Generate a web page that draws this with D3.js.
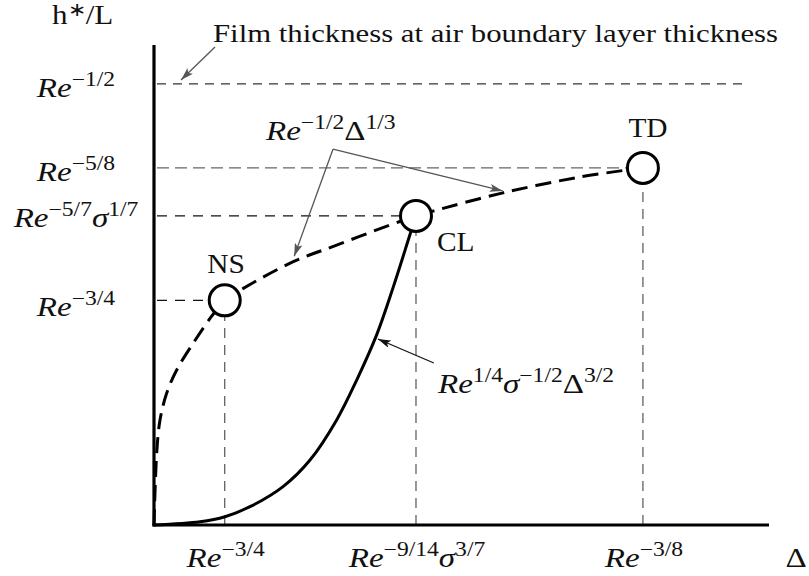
<!DOCTYPE html>
<html>
<head>
<meta charset="utf-8">
<script src="https://cdn.jsdelivr.net/npm/d3@7"></script>
<style>
  html, body { margin: 0; padding: 0; background: #fff; }
  svg { display: block; }
  text { font-family: "Liberation Serif", "Times New Roman", serif; fill: #111; }
</style>
</head>
<body>
<svg id="chart" width="809" height="576"></svg>
<script>
// ---------------- data (arbitrary units, schematic) ----------------
const yTickValues = [91.9, 74.4, 64.4, 46.8];
const yTickLabels = [
  [["Re","i"],["−1/2","s"]],
  [["Re","i"],["−5/8","s"]],
  [["Re","i"],["−5/7","s"],["σ","i"],["1/7","s"]],
  [["Re","i"],["−3/4","s"]]
];
const xTickValues = [11.5, 42.6, 79.5];
const xTickLabels = [
  [["Re","i"],["−3/4","s"]],
  [["Re","i"],["−9/14","s"],["σ","i"],["3/7","s"]],
  [["Re","i"],["−3/8","s"]]
];
const nodeNames = ["NS", "CL", "TD"];
const nodeX = [11.5, 42.6, 79.5];
const nodeY = [46.8, 64.4, 74.4];

// dashed curve: Re^{-1/2} Δ^{1/3}
const dashedX = [0, 0.44, 0.98, 2.07, 3.69, 6.39, 9.38, 11.5, 14.52, 22.65, 29.7, 38.37, 42.6, 45.37, 56.75, 69.27, 79.5];
const dashedY = [0, 15.0, 21.9, 27.5, 32.3, 37.9, 43.5, 46.8, 49.3, 54.85, 58.3, 62.5, 64.4, 65.4, 69.2, 72.5, 74.4];

// solid curve: Re^{1/4} σ^{-1/2} Δ^{3/2}
const solidX = [0, 7.48, 11.54, 15.6, 20.98, 25.37, 29.7, 32.96, 36.2, 38.86, 41.6, 42.6];
const solidY = [0, 0.69, 1.73, 3.81, 8.0, 13.54, 21.9, 30.2, 39.6, 49.4, 60.4, 64.4];

// ---------------- layout ----------------
const svg = d3.select("#chart");
const x = d3.scaleLinear().domain([0, 100]).range([154, 769]);
const y = d3.scaleLinear().domain([0, 100]).range([525, 45]);
const R = 15.5;
const FS = 28, SX = 1.18;

// arrowhead markers
const defs = svg.append("defs");
function marker(id, color) {
  defs.append("marker").attr("id", id)
    .attr("viewBox", "0 0 13 8").attr("refX", 13).attr("refY", 4)
    .attr("markerWidth", 13).attr("markerHeight", 8)
    .attr("markerUnits", "userSpaceOnUse").attr("orient", "auto")
    .append("path").attr("d", "M0,0 L13,4 L0,8 L3,4 Z").attr("fill", color);
}
marker("agray", "#555");
marker("ablack", "#111");

// math text helper (slightly widened to mimic Computer Modern)
function mathText(px, py, parts, anchor, size) {
  size = size || FS;
  const sup = Math.round(size * 0.7);
  const g = svg.append("g").attr("transform", `translate(${px},${py}) scale(${SX},1)`);
  const t = g.append("text").attr("x", 0).attr("y", 0)
    .attr("text-anchor", anchor || "start").attr("font-size", size);
  let raised = false;
  parts.forEach(([s, st]) => {
    const sp = t.append("tspan").text(s);
    if (st === "s") {
      sp.attr("font-size", sup);
      if (!raised) { sp.attr("dy", -size * 0.4); raised = true; }
    } else {
      if (raised) { sp.attr("dy", size * 0.4); raised = false; }
      if (st === "i") sp.attr("font-style", "italic");
    }
  });
  return t;
}

// ---------------- guide lines ----------------
const guideH = [
  { v: yTickValues[0], to: 96.1, color: "#333", dash: "9,7" },
  { v: yTickValues[1], to: nodeX[2], color: "#666", dash: "12,6" },
  { v: yTickValues[2], to: nodeX[1], color: "#111", dash: "10,8" },
  { v: yTickValues[3], to: nodeX[0], color: "#111", dash: "10,8" }
];
guideH.forEach(g => {
  svg.append("line")
    .attr("x1", x(0) + 3).attr("x2", x(g.to))
    .attr("y1", y(g.v)).attr("y2", y(g.v))
    .attr("stroke", g.color).attr("stroke-width", 1.2)
    .attr("stroke-dasharray", g.dash);
});
xTickValues.forEach((v, i) => {
  svg.append("line")
    .attr("x1", x(v)).attr("x2", x(v))
    .attr("y1", y(0)).attr("y2", y(nodeY[i]))
    .attr("stroke", "#555").attr("stroke-width", 1.2)
    .attr("stroke-dasharray", "10,7");
});

// ---------------- curves ----------------
const lineCR = d3.line().x(d => x(d[0])).y(d => y(d[1])).curve(d3.curveCatmullRom.alpha(0.5));
svg.append("path")
  .attr("d", lineCR(dashedX.map((v, i) => [v, dashedY[i]])))
  .attr("fill", "none").attr("stroke", "#000").attr("stroke-width", 3)
  .attr("stroke-dasharray", "16,8");
svg.append("path")
  .attr("d", lineCR(solidX.map((v, i) => [v, solidY[i]])))
  .attr("fill", "none").attr("stroke", "#000").attr("stroke-width", 3);

// ---------------- axes ----------------
svg.append("line").attr("x1", x(0)).attr("x2", x(0)).attr("y1", y(100)).attr("y2", y(0) + 1.5)
  .attr("stroke", "#000").attr("stroke-width", 3.2);
svg.append("line").attr("x1", x(0) - 1.5).attr("x2", x(100)).attr("y1", y(0)).attr("y2", y(0))
  .attr("stroke", "#000").attr("stroke-width", 3.2);

// ---------------- nodes ----------------
nodeX.forEach((v, i) => {
  svg.append("circle").attr("cx", x(v)).attr("cy", y(nodeY[i])).attr("r", R)
    .attr("fill", "#fff").attr("stroke", "#000").attr("stroke-width", 3);
});
const nodeLabelPos = [[226, 273, "middle"], [437, 251, "start"], [648, 137, "middle"]];
nodeNames.forEach((n, i) => {
  svg.append("g").attr("transform", `translate(${nodeLabelPos[i][0]},${nodeLabelPos[i][1]}) scale(1.05,1)`)
    .append("text").attr("text-anchor", nodeLabelPos[i][2]).attr("font-size", 28).text(n);
});

// ---------------- tick labels ----------------
const yLabelBase = [97, 181, 227, 316];
yTickLabels.forEach((p, i) => mathText(76, yLabelBase[i], p, "middle"));
xTickLabels.forEach((p, i) => mathText(x(xTickValues[i]) + 1, 567, p, "middle"));
mathText(796, 567, [["Δ","r"]], "middle");

// y-axis title h*/L
const ytg = svg.append("g").attr("transform", "translate(52,24) scale(1.15,1)");
const yt = ytg.append("text").attr("font-size", 27);
yt.append("tspan").text("h");
yt.append("tspan").attr("font-size", 19).attr("dy", -8).text("∗");
yt.append("tspan").attr("dy", 8).text("/L");

// ---------------- annotations ----------------
svg.append("text").attr("x", 213).attr("y", 42).attr("font-size", 25)
  .attr("textLength", 565).attr("lengthAdjust", "spacingAndGlyphs")
  .text("Film thickness at air boundary layer thickness");
svg.append("line")
  .attr("x1", 215).attr("y1", 47).attr("x2", 181).attr("y2", 80)
  .attr("stroke", "#555").attr("stroke-width", 1.3).attr("marker-end", "url(#agray)");

mathText(266, 140, [["Re","i"],["−1/2","s"],["Δ","r"],["1/3","s"]], "start");
const vtx = [29.1, 78.3];
[[22.8, 56.0], [56.7, 69.6]].forEach(e => {
  svg.append("line")
    .attr("x1", x(vtx[0])).attr("y1", y(vtx[1])).attr("x2", x(e[0])).attr("y2", y(e[1]))
    .attr("stroke", "#555").attr("stroke-width", 1.3).attr("marker-end", "url(#agray)");
});

mathText(438, 393, [["Re","i"],["1/4","s"],["σ","i"],["−1/2","s"],["Δ","r"],["3/2","s"]], "start");
svg.append("line")
  .attr("x1", x(45.5)).attr("y1", y(33.75)).attr("x2", x(36.4)).attr("y2", y(38.75))
  .attr("stroke", "#111").attr("stroke-width", 1.3).attr("marker-end", "url(#ablack)");
</script>
</body>
</html>
